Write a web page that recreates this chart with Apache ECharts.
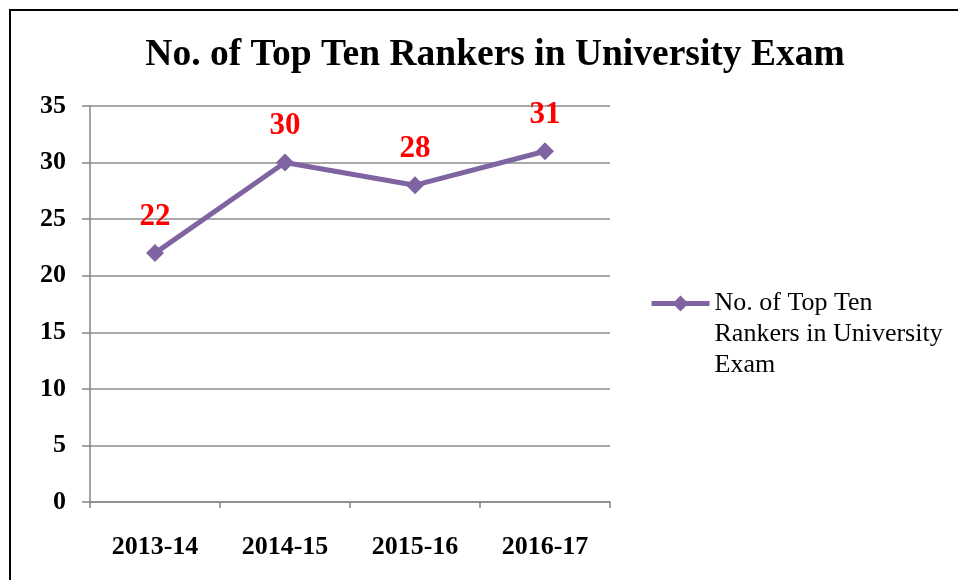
<!DOCTYPE html>
<html>
<head>
<meta charset="utf-8">
<script src="https://cdn.jsdelivr.net/npm/echarts@6/dist/echarts.min.js"></script>
<style>
  html, body { margin: 0; padding: 0; background: #fff; }
  #chart { width: 958px; height: 580px; }
</style>
</head>
<body>
<div id="chart"></div>
<script>
// Academic years and number of top-ten rankers
const years = ['2013-14', '2014-15', '2015-16', '2016-17'];
const rankers = [22, 30, 28, 31];
const seriesName = 'No. of Top Ten Rankers in University Exam';
const serif = '"Liberation Serif", "Times New Roman", serif';
const purple = '#8064A2';

const chart = echarts.init(document.getElementById('chart'));
chart.setOption({
  backgroundColor: '#fff',
  animation: false,
  title: {
    text: seriesName,
    left: 490,
    textAlign: 'center',
    top: 31,
    textStyle: { fontFamily: serif, fontWeight: 'bold', fontSize: 37.5, color: '#000' }
  },
  graphic: [{
    type: 'rect',
    shape: { x: 10, y: 10, width: 960, height: 600 },
    style: { fill: 'none', stroke: '#000', lineWidth: 2 },
    silent: true
  }],
  legend: {
    left: 644,
    top: 221,
    itemWidth: 58,
    itemHeight: 20,
    itemGap: 0,
    data: [seriesName],
    lineStyle: { width: 5, color: purple },
    itemStyle: { color: purple },
    // two blank lines above keep the first text line level with the marker
    formatter: () => '\n\nNo. of Top Ten\nRankers in University\nExam',
    textStyle: {
      fontFamily: serif, fontSize: 26, color: '#000', lineHeight: 31
    }
  },
  grid: { left: 90, right: 348, top: 106, bottom: 78, containLabel: false },
  xAxis: {
    type: 'category',
    data: years,
    boundaryGap: true,
    axisLine: { lineStyle: { color: '#868686', width: 1.5 } },
    axisTick: { show: true, length: 6, lineStyle: { color: '#868686', width: 1.5 } },
    axisLabel: { margin: 32, fontFamily: serif, fontWeight: 'bold', fontSize: 26, color: '#000' }
  },
  yAxis: {
    type: 'value',
    min: 0,
    max: 35,
    interval: 5,
    axisLine: { show: true, lineStyle: { color: '#868686', width: 1.5 } },
    axisTick: { show: true, length: 8, lineStyle: { color: '#868686', width: 1.5 } },
    splitLine: { show: true, lineStyle: { color: '#8c8c8c', width: 1.5 } },
    axisLabel: { margin: 24, fontFamily: serif, fontWeight: 'bold', fontSize: 26, color: '#000' }
  },
  series: [{
    name: seriesName,
    type: 'line',
    data: rankers,
    symbol: 'diamond',
    symbolSize: 18,
    lineStyle: { color: purple, width: 5 },
    itemStyle: { color: purple },
    label: {
      show: true,
      position: 'top',
      distance: 12,
      fontFamily: serif,
      fontWeight: 'bold',
      fontSize: 31,
      color: '#ff0000'
    }
  }]
});
</script>
</body>
</html>
